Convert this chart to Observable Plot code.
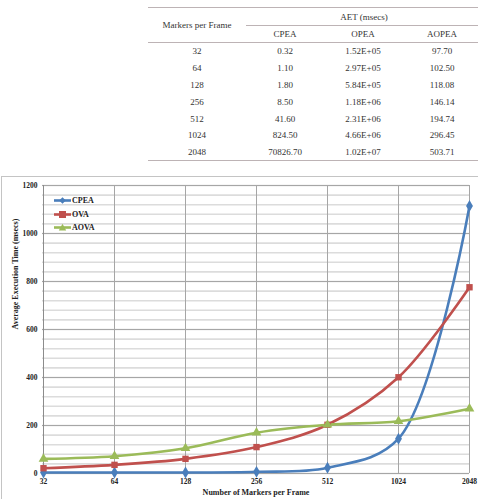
<!DOCTYPE html>
<html>
<head>
<meta charset="utf-8">
<script src="https://cdn.jsdelivr.net/npm/d3@7"></script>
<script src="https://cdn.jsdelivr.net/npm/@observablehq/plot@0.6"></script>
<style>
  html, body { margin:0; padding:0; background:#fff; width:478px; height:499px; overflow:hidden; }
  #tbl { position:absolute; left:148px; top:7px; }
  #tbl table { border-collapse:collapse; font-family:"Liberation Serif", serif; font-size:9px; color:#333; table-layout:fixed; }
  #tbl td { text-align:center; padding:0; vertical-align:middle; }
  #chart { position:absolute; left:1px; top:176px; width:480px; height:330px; border-top:1px solid #c4c4c4; border-left:1px solid #c4c4c4; }
  #legend { position:absolute; left:54px; top:194px; font-family:"Liberation Serif", serif; font-weight:bold; font-size:8px; color:#222; }
  #legend .item { display:flex; align-items:center; height:13.5px; }
  #legend svg { margin-right:1px; }
</style>
</head>
<body>
<div id="tbl"></div>
<div id="chart"></div>
<div id="legend"></div>
<script>
// ---- Table data ----
const tableMarkers = ["32", "64", "128", "256", "512", "1024", "2048"];
const tableCPEA = ["0.32", "1.10", "1.80", "8.50", "41.60", "824.50", "70826.70"];
const tableOPEA = ["1.52E+05", "2.97E+05", "5.84E+05", "1.18E+06", "2.31E+06", "4.66E+06", "1.02E+07"];
const tableAOPEA = ["97.70", "102.50", "118.08", "146.14", "194.74", "296.45", "503.71"];
const tableHeaders = ["Markers per Frame", "AET (msecs)", "CPEA", "OPEA", "AOPEA"];

// ---- Chart data ----
const categories = ["32", "64", "128", "256", "512", "1024", "2048"];
const seriesNames = ["CPEA", "OVA", "AOVA"];
const cpea = [4, 4, 4, 7, 24, 145, 1115];
const ova = [22, 36, 61, 110, 203, 401, 776];
const aova = [61, 72, 105, 170, 203, 218, 270];
const yTicks = [0, 200, 400, 600, 800, 1000, 1200];
const colors = ["#4a7ebb", "#c0504d", "#9bbb59"];
const symbols = ["diamond", "square", "triangle"];

// ---- Build table ----
const lineColor = "#bdb3b5";
let html = `<table style="width:334px;border-top:1px solid ${lineColor};border-bottom:1px solid ${lineColor};">
<colgroup><col style="width:98px"><col style="width:78px"><col style="width:78px"><col style="width:80px"></colgroup>
<tr style="height:18px"><td rowspan="2" style="border-bottom:1px solid ${lineColor}">${tableHeaders[0]}</td>
<td colspan="3" style="border-bottom:1px solid ${lineColor};padding-top:1px">${tableHeaders[1]}</td></tr>
<tr style="height:17px"><td style="border-bottom:1px solid ${lineColor}">${tableHeaders[2]}</td><td style="border-bottom:1px solid ${lineColor}">${tableHeaders[3]}</td><td style="border-bottom:1px solid ${lineColor}">${tableHeaders[4]}</td></tr>`;
tableMarkers.forEach((m, i) => {
  html += `<tr style="height:16.9px"><td>${m}</td><td>${tableCPEA[i]}</td><td>${tableOPEA[i]}</td><td>${tableAOPEA[i]}</td></tr>`;
});
html += `</table>`;
document.getElementById("tbl").innerHTML = html;

// ---- Build chart ----
const values = [cpea, ova, aova];
const data = [];
seriesNames.forEach((s, si) => {
  categories.forEach((c, i) => data.push({series: s, x: c, y: values[si][i]}));
});

const chart = Plot.plot({
  width: 477,
  height: 330,
  marginTop: 8,
  marginLeft: 40,
  marginRight: 10,
  marginBottom: 34,
  x: {type: "point", domain: categories, padding: 0, inset: 0},
  y: {domain: [0, 1200]},
  color: {domain: seriesNames, range: colors},
  symbol: {domain: seriesNames, range: symbols},
  style: {fontFamily: "Liberation Serif, serif", fontWeight: "bold", fontSize: "8px", color: "#222", background: "transparent", overflow: "visible"},
  marks: [
    Plot.gridY(d3.range(0, 1201, 40), {stroke: "#dcdcdc", strokeOpacity: 1, strokeWidth: 1.6}),
    Plot.gridY(yTicks, {stroke: "#a6a6a6", strokeOpacity: 1, strokeWidth: 1}),
    Plot.gridX(categories, {stroke: "#a6a6a6", strokeOpacity: 1, strokeWidth: 1}),
    Plot.ruleX([categories[0]], {stroke: "#8c8c8c", strokeWidth: 1}),
    Plot.axisY(yTicks, {tickSize: 0, tickPadding: 5, label: null, tickFormat: d3.format("d"), fontSize: 7.5}),
    Plot.axisX(categories, {tickSize: 0, tickPadding: 5, label: null, fontSize: 7.5}),
    Plot.text(["Number of Markers per Frame"], {frameAnchor: "bottom", dy: 19, lineAnchor: "middle", fontWeight: "bold", fontSize: 8}),
    Plot.text(["Average Execution Time (msecs)"], {frameAnchor: "left", dx: -27, rotate: -90, lineAnchor: "middle", fontWeight: "bold", fontSize: 8}),
    Plot.line(data, {x: "x", y: "y", stroke: "series", z: "series", curve: "catmull-rom", strokeWidth: 2.6}),
    Plot.dot(data, {x: "x", y: "y", fill: "series", symbol: "series", r: 3.6, stroke: "none"})
  ]
});
document.getElementById("chart").appendChild(chart);

// ---- Legend ----
const legendShapes = [
  (c) => `<path d="M8.5,1.2 L11.8,4.5 L8.5,7.8 L5.2,4.5 Z" fill="${c}"/>`,
  (c) => `<rect x="5" y="1" width="7" height="7" fill="${c}"/>`,
  (c) => `<path d="M8.5,0.8 L12.2,7.6 L4.8,7.6 Z" fill="${c}"/>`
];
document.getElementById("legend").innerHTML = seriesNames.map((s, i) =>
  `<div class="item"><svg width="17" height="9"><line x1="0" x2="17" y1="4.5" y2="4.5" stroke="${colors[i]}" stroke-width="2.6"/>${legendShapes[i](colors[i])}</svg>${s}</div>`
).join("");
</script>
</body>
</html>
